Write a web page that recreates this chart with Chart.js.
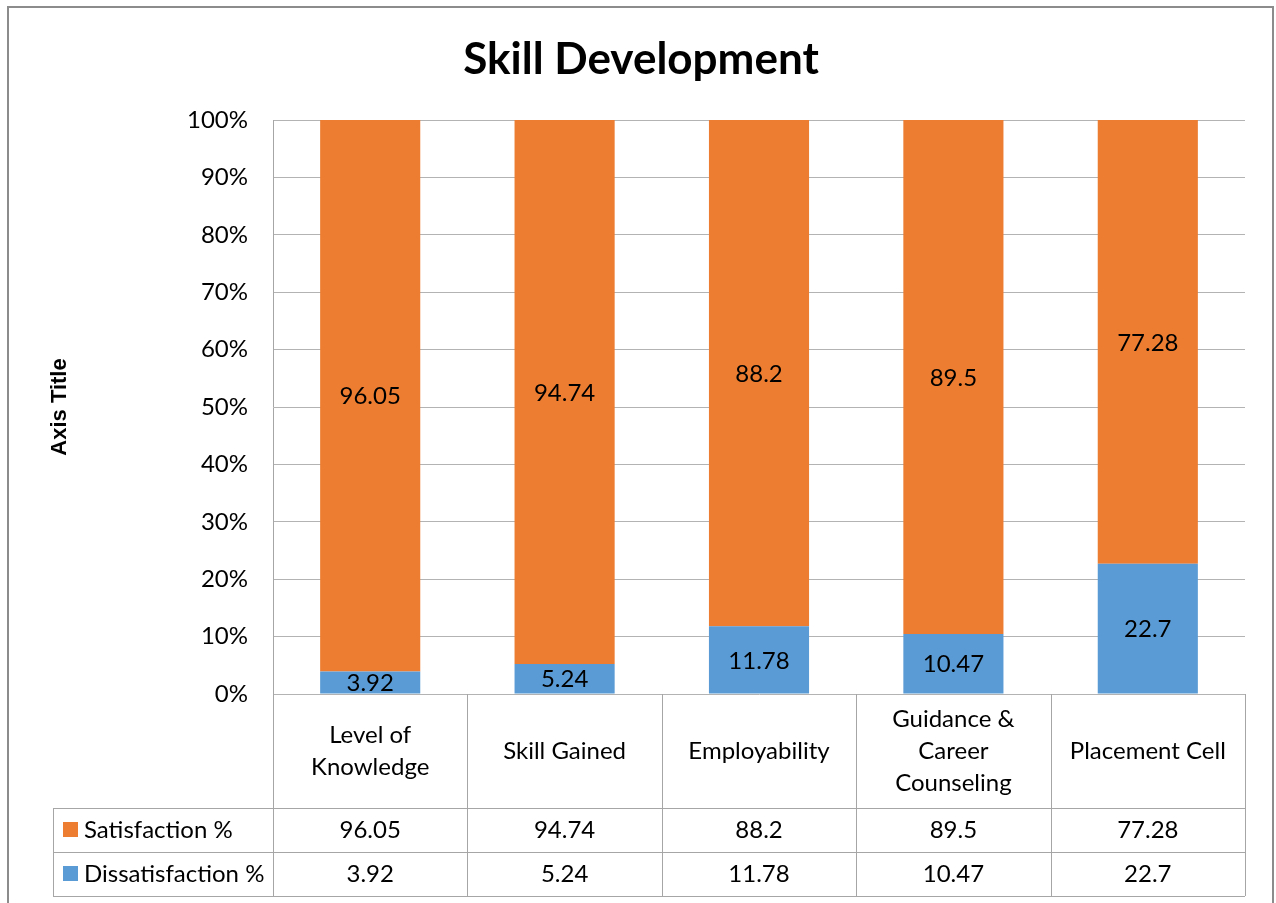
<!DOCTYPE html>
<html>
<head>
<meta charset="utf-8">
<script src="https://cdn.jsdelivr.net/npm/chart.js@4.4.1/dist/chart.umd.min.js"></script>
<style>
  html, body { margin: 0; padding: 0; background: #fff; }
  #wrap { position: relative; width: 1276px; height: 903px; }
</style>
</head>
<body>
<div id="wrap"><canvas id="chart"></canvas></div>
<script>
// data
const categories = [
  ['Level of', 'Knowledge'],
  ['Skill Gained'],
  ['Employability'],
  ['Guidance &', 'Career', 'Counseling'],
  ['Placement Cell']
];
const satisfaction = [96.05, 94.74, 88.2, 89.5, 77.28];
const dissatisfaction = [3.92, 5.24, 11.78, 10.47, 22.7];
const yTicks = [0, 10, 20, 30, 40, 50, 60, 70, 80, 90, 100];

const ORANGE = '#ED7D31';
const BLUE = '#5B9BD5';
const FONT = "Lato, 'Open Sans', sans-serif";

// 100% stacked: share of each stack
const share = (a, b) => a.map((v, i) => v / (v + b[i]) * 100);

const tablePlugin = {
  id: 'excelBits',
  afterDraw(chart) {
    const ctx = chart.ctx;
    const area = chart.chartArea;
    const x = chart.scales.x;
    const half = (area.right - area.left) / categories.length / 2;
    const headTop = area.bottom, headBot = 808, row1 = 852, row2 = 896;
    const legLeft = 53;

    ctx.save();
    // outer border
    ctx.strokeStyle = '#8c8c8c';
    ctx.lineWidth = 2;
    ctx.strokeRect(8, 7, 1265, 920);

    // title
    ctx.fillStyle = '#000';
    ctx.font = 'bold 44px ' + FONT;
    ctx.textAlign = 'center';
    ctx.textBaseline = 'middle';
    ctx.fillText('Skill Development', 641, 60);

    // axis title
    ctx.save();
    ctx.translate(60, 407);
    ctx.rotate(-Math.PI / 2);
    ctx.font = "bold 22px 'Liberation Sans', Arial, sans-serif";
    ctx.fillText('Axis Title', 0, 0);
    ctx.restore();

    // data labels
    ctx.font = '24px ' + FONT;
    const raw = [dissatisfaction, satisfaction];
    chart.data.datasets.forEach((ds, d) => {
      chart.getDatasetMeta(d).data.forEach((bar, i) => {
        ctx.fillText(String(raw[d][i]), bar.x, (bar.y + bar.base) / 2 + 1);
      });
    });

    // table grid
    ctx.strokeStyle = '#a6a6a6';
    ctx.lineWidth = 1;
    ctx.beginPath();
    [headBot, row1, row2].forEach(y => {
      ctx.moveTo(legLeft, y + 0.5); ctx.lineTo(area.right, y + 0.5);
    });
    ctx.moveTo(legLeft + 0.5, headBot); ctx.lineTo(legLeft + 0.5, row2);
    for (let i = 0; i <= categories.length; i++) {
      const px = Math.round(area.left + i * half * 2) + 0.5;
      ctx.moveTo(px, headTop); ctx.lineTo(px, row2);
    }
    ctx.stroke();

    // header labels
    ctx.fillStyle = '#000';
    ctx.font = '24px ' + FONT;
    const lh = 32;
    categories.forEach((lines, i) => {
      const cx = x.getPixelForValue(i);
      const cy = (headTop + headBot) / 2;
      lines.forEach((t, k) => {
        ctx.fillText(t, cx, cy + (k - (lines.length - 1) / 2) * lh);
      });
    });

    // rows
    const rows = [
      { name: 'Satisfaction %', color: ORANGE, vals: satisfaction, top: headBot },
      { name: 'Dissatisfaction %', color: BLUE, vals: dissatisfaction, top: row1 }
    ];
    rows.forEach(r => {
      const cy = r.top + 22;
      ctx.fillStyle = r.color;
      ctx.fillRect(63, cy - 8, 15, 15);
      ctx.fillStyle = '#000';
      ctx.textAlign = 'left';
      ctx.fillText(r.name, 84, cy);
      ctx.textAlign = 'center';
      r.vals.forEach((v, i) => ctx.fillText(String(v), x.getPixelForValue(i), cy));
    });
    ctx.restore();
  }
};

new Chart(document.getElementById('chart'), {
  type: 'bar',
  data: {
    labels: categories.map(c => c.join(' ')),
    datasets: [
      { label: 'Dissatisfaction %', data: share(dissatisfaction, satisfaction), backgroundColor: BLUE },
      { label: 'Satisfaction %', data: share(satisfaction, dissatisfaction), backgroundColor: ORANGE }
    ]
  },
  options: {
    responsive: true,
    maintainAspectRatio: false,
    animation: false,
    layout: { padding: { left: 0, right: 31, top: 120, bottom: 209 } },
    datasets: { bar: { categoryPercentage: 1, barPercentage: 0.515 } },
    plugins: { legend: { display: false }, tooltip: { enabled: false }, title: { display: false } },
    scales: {
      x: { stacked: true, display: false },
      y: {
        stacked: true,
        min: 0,
        max: 100,
        afterFit: s => { s.width = 273; },
        afterBuildTicks: s => { s.ticks = yTicks.map(v => ({ value: v })); },
        border: { color: '#a6a6a6' },
        grid: { color: '#b3b3b3', drawTicks: false },
        ticks: {
          padding: 25,
          color: '#000',
          font: { family: FONT, size: 24 },
          callback: v => v + '%'
        }
      }
    }
  },
  plugins: [tablePlugin]
});
</script>
</body>
</html>
